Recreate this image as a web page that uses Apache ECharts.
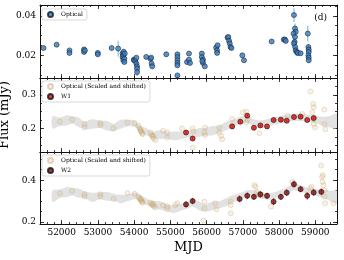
<!DOCTYPE html>
<html><head><meta charset="utf-8">
<script src="https://cdn.jsdelivr.net/npm/echarts@6/dist/echarts.min.js"></script>
<style>html,body{margin:0;padding:0;background:#fff}#c{width:344px;height:260px}</style>
</head><body><div id="c"></div>
<script>
// ---------- Data ----------
const xTicks = [52000, 53000, 54000, 55000, 56000, 57000, 58000, 59000];
const y1Ticks = [0.02, 0.04];
const y2Ticks = [0.2, 0.3];
const y3Ticks = [0.2, 0.4];

// Panel 1: optical light curve
const optMJD  = [51496,51859,52214,52214,52614,52614,52640,52996,52996,53378,53558,
  53680,53680,53700,53700,53710,53730,53730,53740,
  53990,54000,54030,54060,54080,54080,54080,54060,
  54333,54450,54480,54500,54470,54886,
  55194,55194,55194,55194,55194,55194,55459,55513,55513,55541,
  55868,55868,55900,55900,55950,55880,
  56263,56290,56290,56304,
  56577,56600,56620,56640,56660,56686,
  56986,57032,57796,58131,58160,58186,
  58412,58440,58460,58400,58440,58430,58410,58445,58460,58490,58520,58595,
  58794,58810,58820,58820,58810,58820,58820];
const optFlux = [0.0237,0.0254,0.0225,0.0212,0.0230,0.0217,0.0225,0.0212,0.0205,0.0237,0.0234,
  0.0209,0.0191,0.0200,0.0175,0.0218,0.0183,0.0166,0.0209,
  0.0178,0.0175,0.0171,0.0158,0.0144,0.0132,0.0115,0.0188,
  0.0192,0.0183,0.0158,0.0144,0.0188,0.0205,
  0.0205,0.0191,0.0175,0.0161,0.0149,0.0098,0.0166,0.0209,0.0178,0.0161,
  0.0209,0.0191,0.0178,0.0161,0.0144,0.0171,
  0.0239,0.0225,0.0212,0.0251,
  0.0290,0.0293,0.0273,0.0260,0.0242,0.0237,
  0.0200,0.0175,0.0270,0.0280,0.0280,0.0273,
  0.0404,0.0336,0.0319,0.0310,0.0293,0.0268,0.0260,0.0242,0.0225,0.0217,0.0212,0.0210,
  0.0310,0.0242,0.0229,0.0217,0.0200,0.0188,0.0175];
const optErr  = [0.0008,0.0006,0.0006,0.0006,0.0006,0.0006,0.0006,0.0006,0.0006,0.0007,0.0040,
  0.0008,0.0008,0.0006,0.0008,0.0012,0.0008,0.0008,0.0008,
  0.0006,0.0006,0.0008,0.0010,0.0010,0.0012,0.0020,0.0006,
  0.0006,0.0006,0.0008,0.0008,0.0006,0.0012,
  0.0008,0.0008,0.0008,0.0008,0.0008,0.0008,0.0006,0.0006,0.0006,0.0006,
  0.0008,0.0008,0.0008,0.0008,0.0008,0.0008,
  0.0008,0.0008,0.0008,0.0008,
  0.0008,0.0008,0.0008,0.0008,0.0008,0.0008,
  0.0008,0.0008,0.0008,0.0008,0.0008,0.0008,
  0.0035,0.0025,0.0025,0.0020,0.0025,0.0020,0.0020,0.0025,0.0025,0.0020,0.0015,0.0010,
  0.0040,0.0015,0.0015,0.0015,0.0015,0.0015,0.0015];

// Panel 2: optical scaled and shifted + W1
const opt2MJD  = [51949,52287,52630,52630,53068,53068,53432,53814,54013,54122,54150,54177,54200,54220,54232,54180,
  54450,54480,54510,54540,54586,54520,54796,54913,54913,55322,55614,55640,55614,55958,55958,55940,
  56350,56350,56400,56430,56705,56705,57005,57095,57130,57095,57457,58232,58641,58867,
  58940,58960,58920,58950,58960,58990,59249,59249,59280];
const opt2Flux = [0.220,0.226,0.213,0.203,0.216,0.210,0.200,0.218,0.216,0.208,0.200,0.195,0.190,0.186,0.183,0.192,
  0.188,0.180,0.175,0.170,0.165,0.178,0.193,0.188,0.173,0.200,0.200,0.191,0.143,0.203,0.180,0.188,
  0.203,0.188,0.178,0.168,0.228,0.208,0.248,0.250,0.226,0.218,0.186,0.238,0.243,0.310,
  0.273,0.263,0.248,0.228,0.213,0.203,0.256,0.213,0.198];
const w1MJD  = [55432,55614,56705,56931,57122,57305,57485,57668,57850,58050,58213,58412,58595,58777,58957];
const w1Flux = [0.188,0.170,0.206,0.220,0.238,0.202,0.209,0.206,0.225,0.226,0.223,0.234,0.235,0.225,0.231];
const w1Err  = [0.004,0.005,0.004,0.004,0.005,0.004,0.004,0.004,0.004,0.004,0.004,0.004,0.004,0.004,0.005];
const band2MJD = [51750,51950,52150,52300,52450,52630,52850,53060,53250,53430,53620,53814,54013,54150,54300,54500,
  54700,54900,55100,55320,55500,55614,55800,55950,56150,56350,56550,56705,56930,57120,57300,57480,57670,57850,
  58050,58220,58410,58600,58780,58960,59200,59400,59600];
const band2Lo = [0.200,0.207,0.209,0.214,0.205,0.199,0.199,0.201,0.194,0.192,0.199,0.206,0.204,0.191,0.181,0.173,
  0.169,0.170,0.165,0.169,0.173,0.173,0.175,0.179,0.179,0.187,0.195,0.203,0.213,0.217,0.205,0.202,0.205,0.211,
  0.216,0.219,0.222,0.222,0.219,0.217,0.209,0.203,0.202];
const band2Hi = [0.236,0.233,0.239,0.236,0.233,0.221,0.227,0.223,0.222,0.214,0.225,0.226,0.224,0.209,0.203,0.191,
  0.195,0.190,0.191,0.191,0.195,0.193,0.201,0.201,0.207,0.209,0.221,0.225,0.235,0.239,0.227,0.224,0.227,0.233,
  0.238,0.241,0.244,0.244,0.241,0.239,0.235,0.237,0.244];

// Panel 3: optical scaled and shifted + W2
const opt3MJD  = [51949,52287,52630,52630,53068,53068,53432,53814,54013,54122,54150,54177,54200,54220,54232,54180,
  54450,54480,54510,54540,54586,54520,54796,54913,54913,55140,55194,55941,55941,55920,56277,56240,
  56667,56667,56667,57321,57350,57390,57440,57500,57777,58368,58400,58867,58900,
  59160,59187,59210,59200,59230,59260,59250,59270,59503];
const opt3Flux = [0.337,0.348,0.333,0.322,0.333,0.322,0.310,0.338,0.335,0.320,0.312,0.305,0.300,0.296,0.292,0.308,
  0.293,0.285,0.280,0.275,0.270,0.288,0.280,0.275,0.262,0.281,0.289,0.297,0.265,0.206,0.260,0.289,
  0.297,0.281,0.241,0.376,0.369,0.344,0.333,0.325,0.273,0.392,0.376,0.360,0.368,
  0.470,0.416,0.424,0.392,0.376,0.352,0.321,0.289,0.289];
const w2MJD  = [55432,55614,56912,57122,57305,57485,57668,57850,58050,58213,58412,58595,58777,58957,59167];
const w2Flux = [0.284,0.300,0.310,0.325,0.320,0.332,0.325,0.297,0.320,0.340,0.381,0.357,0.325,0.341,0.344];
const w2Err  = [0.015,0.015,0.016,0.016,0.015,0.015,0.015,0.016,0.015,0.016,0.016,0.015,0.018,0.016,0.016];
const band3MJD = band2MJD;
const band3Lo = [0.296,0.315,0.319,0.327,0.316,0.313,0.296,0.308,0.301,0.301,0.290,0.299,0.309,0.303,0.283,0.270,
  0.260,0.252,0.243,0.256,0.266,0.274,0.255,0.250,0.255,0.265,0.276,0.294,0.306,0.320,0.320,0.314,0.306,0.309,
  0.322,0.334,0.350,0.344,0.332,0.327,0.316,0.301,0.288];
const band3Hi = [0.352,0.355,0.367,0.363,0.360,0.347,0.340,0.342,0.343,0.335,0.330,0.331,0.341,0.333,0.317,0.300,
  0.300,0.284,0.281,0.288,0.298,0.306,0.295,0.284,0.297,0.299,0.314,0.326,0.338,0.352,0.352,0.346,0.338,0.341,
  0.354,0.366,0.382,0.376,0.364,0.359,0.354,0.349,0.348];

// ---------- Layout / style ----------
const X_MIN = 51400, X_MAX = 59600;
const SERIF = 'DejaVu Serif';
const grids = [
  {left: 40, right: 7, top: 5, height: 73},
  {left: 40, right: 7, top: 78, height: 74},
  {left: 40, right: 7, top: 152, height: 72}
];
const yRanges = [[0.0085, 0.0455], [0.13, 0.35], [0.19, 0.535]];
const yMajors = [y1Ticks, y2Ticks, y3Ticks];
const yMinorStep = [0.005, 0.025, 0.05];

function steps(a, b, s) { const r = []; for (let v = a; v <= b + 1e-9; v += s) r.push(+v.toFixed(6)); return r; }
const xMinor = steps(X_MIN, X_MAX, 200);

const lineStyle = {color: '#111', width: 1};
function axisCommon(gi, pos, min, max, ticks, len, showLine, labels, extra) {
  return Object.assign({
    type: 'value', gridIndex: gi, position: pos, min: min, max: max, scale: true,
    axisLine: {show: showLine, onZero: false, lineStyle: lineStyle},
    axisTick: {show: true, inside: true, length: len, customValues: ticks, lineStyle: {color: '#111', width: 0.8}},
    axisLabel: labels ? {show: true, customValues: ticks, fontFamily: SERIF, fontSize: 9, color: '#000', margin: 4,
      formatter: v => String(+v.toFixed(4))} : {show: false},
    splitLine: {show: false}, minorTick: {show: false}, minorSplitLine: {show: false}
  }, extra || {});
}

const xAxes = [], yAxes = [];
grids.forEach((g, gi) => {
  const xl = gi === 2;
  g.xIdx = xAxes.length;
  xAxes.push(axisCommon(gi, 'bottom', X_MIN, X_MAX, xTicks, 4, true, xl,
    xl ? {name: 'MJD', nameLocation: 'middle', nameGap: 17, nameTextStyle: {fontFamily: SERIF, fontSize: 13, color: '#000'}} : {}));
  xAxes.push(axisCommon(gi, 'top', X_MIN, X_MAX, xTicks, 4, true, false));
  xAxes.push(axisCommon(gi, 'bottom', X_MIN, X_MAX, xMinor, 2, false, false));
  xAxes.push(axisCommon(gi, 'top', X_MIN, X_MAX, xMinor, 2, false, false));
  const [ymin, ymax] = yRanges[gi];
  g.yIdx = yAxes.length;
  const ym = steps(Math.ceil(ymin / yMinorStep[gi]) * yMinorStep[gi], ymax, yMinorStep[gi]);
  yAxes.push(axisCommon(gi, 'left', ymin, ymax, yMajors[gi], 4, true, true,
    gi === 1 ? {name: 'Flux (mJy)', nameLocation: 'middle', nameGap: 21, nameTextStyle: {fontFamily: SERIF, fontSize: 13, color: '#000'}} : {}));
  yAxes.push(axisCommon(gi, 'right', ymin, ymax, yMajors[gi], 4, true, false));
  yAxes.push(axisCommon(gi, 'left', ymin, ymax, ym, 2, false, false));
  yAxes.push(axisCommon(gi, 'right', ymin, ymax, ym, 2, false, false));
});

function zip(a, b) { return a.map((v, i) => [v, b[i]]); }
function errData(m, f, e) { return m.map((v, i) => [v, f[i] - e[i], f[i] + e[i]]); }
function errSeries(gi, data, color, width) {
  return {
    type: 'custom', xAxisIndex: grids[gi].xIdx, yAxisIndex: grids[gi].yIdx, data: data, z: 3, silent: true,
    encode: {x: 0, y: [1, 2]}, clip: true,
    renderItem: (params, api) => {
      const a = api.coord([api.value(0), api.value(1)]);
      const b = api.coord([api.value(0), api.value(2)]);
      return {type: 'line', shape: {x1: a[0], y1: a[1], x2: b[0], y2: b[1]}, style: {stroke: color, lineWidth: width}};
    }
  };
}
// Band: one polygon through upper points then lower points (in reverse), placed by api.coord
function bandSeries(gi, mjd, lo, hi) {
  const rows = mjd.map((m, i) => [m, lo[i], hi[i]]);
  return {
    type: 'custom', xAxisIndex: grids[gi].xIdx, yAxisIndex: grids[gi].yIdx, data: [0], z: 1, silent: true, clip: true,
    renderItem: (params, api) => {
      const up = rows.map(r => api.coord([r[0], r[2]]));
      const dn = rows.map(r => api.coord([r[0], r[1]])).reverse();
      const cs = params.coordSys;
      return {
        type: 'group',
        clipPath: {type: 'rect', shape: {x: cs.x, y: cs.y, width: cs.width, height: cs.height}},
        children: [{type: 'polygon', shape: {points: up.concat(dn), smooth: 0.35}, style: {fill: '#e2e2e2', stroke: null}}]
      };
    }
  };
}
const tanStyle = {color: 'rgba(214,178,120,0.2)', borderColor: 'rgba(190,150,90,0.5)', borderWidth: 0.7};
function scatter(gi, name, data, style, z) {
  return {type: 'scatter', name: name, xAxisIndex: grids[gi].xIdx, yAxisIndex: grids[gi].yIdx, data: data,
    symbol: 'circle', symbolSize: 5, itemStyle: style, z: z, silent: true};
}

const series = [].concat(
  errSeries(0, errData(optMJD, optFlux, optErr), '#6db0e4', 1),
  scatter(0, 'Optical', zip(optMJD, optFlux), {color: '#3f7fc0', borderColor: '#0d1a2a', borderWidth: 0.7}, 4),
  bandSeries(1, band2MJD, band2Lo, band2Hi),
  scatter(1, 'Optical (Scaled and shifted)', zip(opt2MJD, opt2Flux), tanStyle, 2),
  errSeries(1, errData(w1MJD, w1Flux, w1Err), '#cc1010', 1),
  scatter(1, 'W1', zip(w1MJD, w1Flux), {color: '#e8100a', borderColor: '#111', borderWidth: 0.8}, 4),
  bandSeries(2, band3MJD, band3Lo, band3Hi),
  scatter(2, 'Optical (Scaled and shifted)', zip(opt3MJD, opt3Flux), tanStyle, 2),
  errSeries(2, errData(w2MJD, w2Flux, w2Err), '#d42020', 1),
  scatter(2, 'W2', zip(w2MJD, w2Flux), {color: '#8c1212', borderColor: '#111', borderWidth: 0.8}, 4)
);

function legend(top, names) {
  return {
    left: 42, top: top, orient: 'vertical', data: names, itemWidth: 5, itemHeight: 5, itemGap: 3,
    icon: 'circle', selectedMode: false,
    textStyle: {fontFamily: SERIF, fontSize: 6, color: '#000', padding: [0, 0, 0, 3]},
    borderColor: '#cfcfcf', borderWidth: 0.8, borderRadius: 2, padding: [2, 4, 2, 5], backgroundColor: '#fff'
  };
}

const chart = echarts.init(document.getElementById('c'), null, {renderer: 'canvas'});
chart.setOption({
  animation: false,
  backgroundColor: '#fff',
  title: {text: '(d)', right: 12, top: 8, textStyle: {fontFamily: SERIF, fontSize: 9, fontWeight: 'normal', color: '#000'}},
  grid: grids.map(g => ({left: g.left, right: g.right, top: g.top, height: g.height, outerBoundsMode: 'none', containLabel: false})),
  xAxis: xAxes,
  yAxis: yAxes,
  legend: [
    legend(9, ['Optical']),
    legend(81, ['Optical (Scaled and shifted)', 'W1']),
    legend(155, ['Optical (Scaled and shifted)', 'W2'])
  ],
  series: series
});
</script></body></html>
